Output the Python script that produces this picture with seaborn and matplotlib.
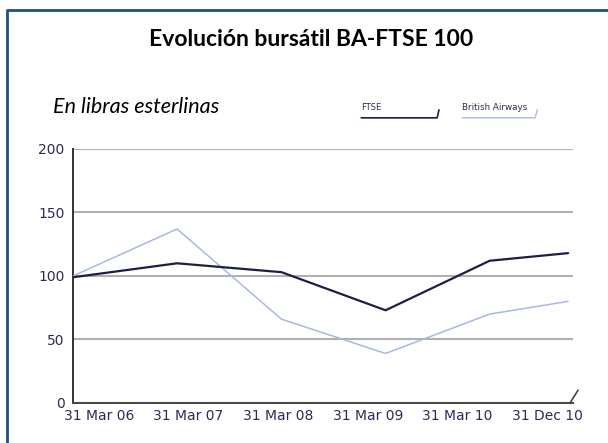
import seaborn as sns
import pandas as pd
import matplotlib.pyplot as plt
import matplotlib.dates as mdates
import numpy as np
from matplotlib.lines import Line2D

# data
DATES = ["2006-03-31", "2007-03-31", "2008-03-31", "2009-03-31", "2010-03-31", "2010-12-31"]
TICK_LABELS = ["31 Mar 06", "31 Mar 07", "31 Mar 08", "31 Mar 09", "31 Mar 10", "31 Dec 10"]
FTSE = [99, 110, 103, 73, 112, 118]
BRITISH_AIRWAYS = [100, 137, 66, 39, 70, 80]
SERIES = ["FTSE", "British Airways"]

NAVY = "#1c1f45"
LIGHT = "#a8b8e6"
TEXT = "#2d2b55"
FRAME = "#1f4e86"

sns.set_style("white")
plt.rcParams["font.family"] = ["DejaVu Sans"]

df = pd.DataFrame({
    "fecha": pd.to_datetime(DATES * 2),
    "valor": FTSE + BRITISH_AIRWAYS,
    "serie": [SERIES[0]] * len(DATES) + [SERIES[1]] * len(DATES),
})

fig = plt.figure(figsize=(6.08, 4.43), dpi=100)
ax = fig.add_axes([0.120, 0.0903, 0.8224, 0.5734])

sns.lineplot(
    data=df, x="fecha", y="valor", hue="serie", size="serie",
    palette={SERIES[0]: NAVY, SERIES[1]: LIGHT},
    sizes={SERIES[0]: 1.6, SERIES[1]: 1.1},
    hue_order=SERIES[::-1], legend=False, ax=ax, zorder=3,
)

x0 = mdates.date2num(pd.Timestamp(DATES[0]))
x1 = mdates.date2num(pd.Timestamp(DATES[-1])) + 17
ax.set_xlim(x0, x1)
ax.set_ylim(0, 200)
ax.set_yticks([0, 50, 100, 150, 200])
ax.yaxis.grid(True, color="#b0b0b0", linewidth=1.5)
ax.set_axisbelow(True)

# labels sit evenly under the plot, not on the dates
ax.set_xticks(x0 + np.linspace(0.052, 0.948, len(TICK_LABELS)) * (x1 - x0))
ax.set_xticklabels(TICK_LABELS)
ax.tick_params(axis="both", length=0, labelsize=10, labelcolor=TEXT)
ax.tick_params(axis="y", pad=6)
ax.tick_params(axis="x", pad=4)
ax.set_xlabel("")
ax.set_ylabel("")

for s in ["top", "right"]:
    ax.spines[s].set_visible(False)
ax.spines["left"].set_color("#333333")
ax.spines["left"].set_linewidth(1.4)
ax.spines["bottom"].set_color("#444444")
ax.spines["bottom"].set_linewidth(1.4)
ax.plot([0.994, 1.01], [0, 0.05], transform=ax.transAxes, color="#444444",
        linewidth=1.2, clip_on=False)

fig.text(0.512, 0.91, "Evolución bursátil BA-FTSE 100", ha="center", va="center",
         fontsize=16.5, fontweight="bold", family=["Lato", "DejaVu Sans"], color="black")
fig.text(0.087, 0.759, "En libras esterlinas", ha="left", va="center",
         fontsize=15.5, style="italic", family=["Lato", "DejaVu Sans"], color="black")

# small legend with underlines
fig.text(0.594, 0.757, SERIES[0], ha="left", va="center", fontsize=6, color=TEXT)
fig.text(0.760, 0.757, SERIES[1], ha="left", va="center", fontsize=6.3, color=TEXT)
fig.add_artist(Line2D([0.594, 0.719, 0.722], [0.734, 0.734, 0.752], color=NAVY, linewidth=1.2))
fig.add_artist(Line2D([0.760, 0.880, 0.884], [0.734, 0.734, 0.752], color=LIGHT, linewidth=1.0))

# frame around the chart
fig.add_artist(Line2D([0.012, 0.012, 1.1], [-0.1, 0.977, 0.977], color=FRAME, linewidth=2))

fig.savefig("out.png", dpi=100)
